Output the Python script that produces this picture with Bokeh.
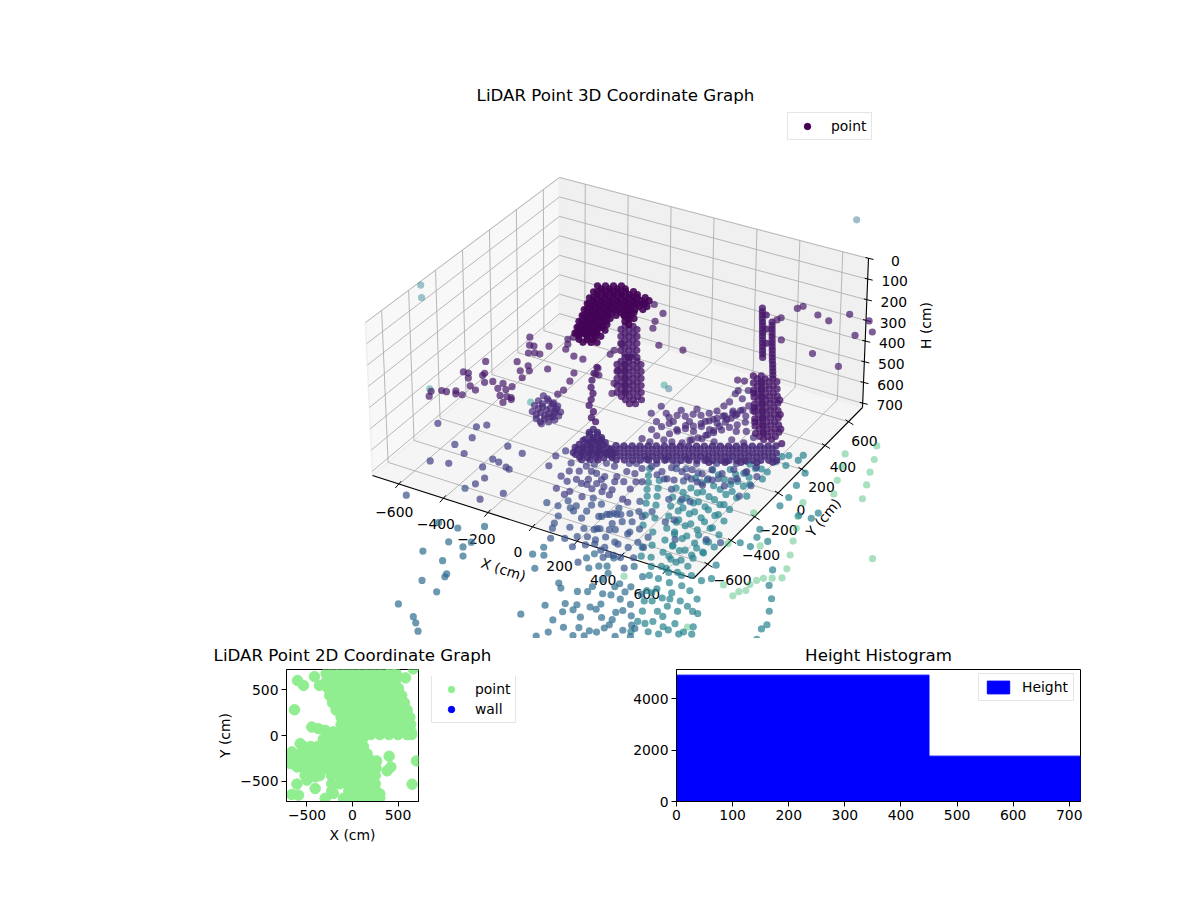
from bokeh.core.properties import value
from bokeh.embed import file_html
from bokeh.layouts import column, row
from bokeh.models import ColumnDataSource, FixedTicker, Legend, LegendItem, Range1d, Spacer
from bokeh.palettes import Viridis256
from bokeh.plotting import figure
from bokeh.resources import INLINE
import numpy as np

FONT = "DejaVu Sans"

# LiDAR returns, grouped by height (cm): (X, Y) readings for each level
roof_h = 170
roof_xy = [(-228,229),(-200,245),(-172,261),(-145,278),(-219,182),(-191,198),(-163,214),(-136,230),(-108,247),(-80,263),
    (-210,134),(-182,150),(-155,167),(-127,183),(-99,199),(-72,215),(-44,231),(-16,247),
    (-195,91),(-167,107),(-139,123),(-112,140),(-84,156),(-56,172),(-29,188),(-1,204),
    (-183,46),(-155,62),(-127,78),(-100,95),(-72,111),(-44,127),(-24,139),
    (-167,2),(-139,18),(-112,34),(-84,51),(-22,87),(-1,99),
    (-156,-43),(-128,-27),(-100,-11),(-73,6),(3,50),(-140,-86),(-112,-70),(-84,-54),(-57,-37),
    (-125,-129),(-97,-113),(-69,-97),(-49,-85),(-88,-161),(-60,-145),(-39,-133),
    (-253,241),(-225,257),(-197,273),(-170,290),(-244,194),(-216,210),(-188,226),(-161,242),(-133,259),(-105,275),
    (-235,146),(-207,162),(-180,179),(-152,195),(-124,211),(-97,227),(-69,243),(-41,259),(-220,103),(-192,119),(-164,135),
    (-137,152),(-109,168),(-81,184),(-54,200),(-26,216),(-208,58),(-180,74),(-152,90),(-125,107),(-97,123),(-69,139),(-49,151),
    (-192,14),(-164,30),(-137,46),(-109,63),(-47,99),(-26,111),(-181,-31),(-153,-15),(-125,1),(-98,18),(-22,62),
    (-165,-74),(-137,-58),(-109,-42),(-82,-25),(-150,-117),(-122,-101),(-94,-85),(-74,-73),(-113,-149),(-85,-133),(-64,-121),
    (-231,201),(-203,217),(-175,233),(-148,250),(-222,154),(-194,170),(-166,186),(-139,202),(-111,219),(-83,235),
    (-213,106),(-185,122),(-158,139),(-130,155),(-102,171),(-75,187),(-47,203),(-19,219),(-198,63),(-170,79),(-142,95),
    (-115,112),(-87,128),(-59,144),(-32,160),(-4,176),(-186,18),(-158,34),(-130,50),(-103,67),(-75,83),(-47,99),
    (-170,-26),(-142,-10),(-115,6),(-87,23),(-159,-71),(-131,-55),(-103,-39),(-76,-22),(-143,-114),(-115,-98),(-87,-82)]

pillar_h = 300
pillar_xy = [(-105,208),(-77,224),(-79,162),(-51,178),(-53,116),(-25,132),(-27,70),(1,86),(0,24),(28,40),
    (13,-30),(40,-14),(68,2),(39,-75),(66,-59),(94,-43),(65,-121),(92,-105),(120,-89),(91,-167),(118,-151),(146,-135),
    (117,-213),(144,-197),(172,-181),(144,-259),(171,-243),(199,-227),(197,-289),(218,-277),
    (-80,196),(-52,212),(-54,150),(-26,166),(-28,104),(0,120),(-2,58),(26,74),(25,12),(53,28),(38,-42),(65,-26),(93,-10),
    (64,-87),(91,-71),(119,-55),(90,-133),(117,-117),(145,-101),(116,-179),(143,-163),(171,-147),(142,-225),(169,-209),
    (197,-193),(169,-271),(196,-255),(224,-239),
    (-108,180),(-82,134),(-56,88),(-30,42),(10,-58),(37,-42),(36,-103),(63,-87),(62,-149),(89,-133),(88,-195),(115,-179),
    (114,-241),(141,-225),(11,5),(32,17),(22,11),(-117,262),(-133,305),
    (-48,-118),(-36,-163),(-17,-213),(6,-261),(35,-297),(51,-340),(66,-383),(103,-415),(118,-458),(147,-476),
    (312,602),(338,556),(365,510),(391,464),(417,418),(443,372),(469,326),(495,280),(352,564),(405,472),(457,380),
    (325,579),(351,533),(378,487),(404,441),(430,395),(456,349),(482,303),
    (399,530),(425,484),(451,438),(477,392),(503,346),(529,300),(556,254),(582,208),
    (412,507),(438,461),(464,415),(490,369),(516,323),(542,277),(569,231),(595,185),
    (553,130),(579,84),(605,38),(632,-7),(658,-53),(684,-99),(710,-145),(736,-191),(763,-237),
    (581,146),(607,100),(633,54),(660,9),(686,-37),(712,-83),(738,-129),(764,-175),(791,-221),
    (608,162),(634,116),(660,70),(687,25),(713,-21),(739,-67),(765,-113),(791,-159),(818,-205),
    (578,118),(604,72),(630,26),(657,-19),(683,-65),(709,-111),(735,-157),(761,-203),(788,-249),
    (606,134),(632,88),(658,42),(685,-3),(711,-49),(737,-95),(763,-141),(789,-187),(816,-233),
    (633,150),(659,104),(685,58),(712,13),(738,-33),(764,-79),(790,-125),(816,-171),
    (528,142),(554,96),(580,50),(607,5),(633,-41),(659,-87),(685,-133),(711,-179),(738,-225),
    (556,158),(582,112),(608,66),(635,21),(661,-25),(687,-71),(713,-117),(739,-163),(766,-209),
    (708,37),(760,-55),(812,-147),(865,-239),(591,30),(644,-61),(696,-153)]
back_xy = [(-392,-57),(-362,-110),(-344,-107),(-292,-77),(-336,-164),(-315,-151),(-293,-148),(-254,7),(-243,31),(-235,-26),
    (-223,-63),(-169,-92),(-127,-93),(-448,-308),(-341,-245),(-288,-249),(-296,-298),(-265,-280),(-210,-230),(-105,-203),
    (-89,-264),(-263,-340),(-482,-424),(-461,-421),(-442,-454),(-405,-406),(-406,-389),(-372,-448),(-348,-425),(-406,-502),
    (-373,-518),(-515,-619),(-483,-592),(-463,-589),(-435,-564),(-424,-584),(-399,-577),(-503,-655),(-77,-336),(-82,-374),
    (-226,-493),(70,-188),(100,-258),(35,-95),(-48,84),(-53,29),(-51,-6),(-41,-122),(-26,-166),(-12,-166),
    (-306,-417),(-305,-460),(-274,-451),(-264,-419),(-271,-502),(-244,-495),(-235,-542),(-218,-506),
    (440,668),(453,693),(539,665),(600,648),(653,731),(748,726),(800,660),(749,604),(660,403),(799,371),
    (498,431),(416,575),(409,553),(488,83),(516,90),(186,169),(84,152),(-22,370),(-20,302),(-1,252),(-87,411)]

wall_h = 420
wall_xy = [(76,-367),(81,-408),(109,-392),(85,-449),(113,-433),(140,-417),(83,-494),(111,-478),(139,-462),(166,-446),
    (95,-531),(123,-515),(151,-499),(178,-483),(206,-466),(107,-567),(134,-551),(162,-535),(189,-519),(217,-502),
    (146,-588),(174,-572),(202,-556),
    (101,-379),(106,-420),(134,-404),(110,-461),(138,-445),(165,-429),(108,-506),(136,-490),(164,-474),(191,-458),
    (120,-543),(148,-527),(176,-511),(203,-495),(231,-478),(132,-579),(159,-563),(187,-547),(214,-531),(242,-514),
    (73,-395),(82,-461),(110,-445),(137,-429),(80,-522),(108,-506),(136,-490),(163,-474),(92,-559),(120,-543),(148,-527),(175,-511),(203,-494),
    (209,-455),(237,-439),(265,-423),(292,-407),(320,-390),(348,-374),(376,-358),(403,-342),(431,-326),(459,-309),(487,-293),
    (514,-277),(542,-261),(570,-245),(598,-228),(625,-212),(653,-196),(681,-180),(709,-164),(736,-147),(764,-131),
    (235,-501),(263,-485),(291,-469),(318,-453),(346,-436),(374,-420),(402,-404),(429,-388),(457,-372),(485,-355),(513,-339),
    (540,-323),(568,-307),(596,-291),(624,-274),(651,-258),(679,-242),(707,-226),(735,-210),(762,-193),(790,-177),
    (238,-473),(266,-457),(294,-441),(321,-425),(349,-408),(377,-392),(405,-376),(432,-360),(460,-344),(488,-327),(516,-311),
    (543,-295),(571,-279),(599,-263),(627,-246),(654,-230),(682,-214),(710,-198),(738,-182),(765,-165),(793,-149),
    (212,-427),(240,-411),(268,-395),(295,-379),(323,-362),(351,-346),(379,-330),(406,-314),(434,-298),(462,-281),(490,-265),
    (517,-249),(545,-233),(573,-217),(601,-200),(628,-184),(656,-168),(684,-152),(712,-136),(739,-119),(767,-103),
    (264,-519),(292,-503),(320,-487),(347,-471),(375,-454),(403,-438),(431,-422),(458,-406),(486,-390),(514,-373),(542,-357),
    (569,-341),(597,-325),(625,-309),(653,-292),(680,-276),(708,-260),(736,-244),(764,-228),(791,-211),(819,-195),
    (590,-346),(646,-313),(701,-281),(757,-249),(812,-216)]
fan_xy = [(353,-240),(371,-207),(390,-175),(408,-142),(426,-110),(445,-77),(463,-44),(481,-12),(500,21),(518,54),
    (429,-274),(447,-241),(466,-209),(484,-176),(502,-144),(521,-111),(539,-78),(557,-46),(576,-13),
    (483,-207),(489,-169),(495,-130),(500,-92),(506,-53),(512,-15),(518,24),(524,62),(530,100),
    (293,-135),(313,-105),(345,-95),(365,-66),(396,-57),(417,-27),(437,3),(443,50),(448,88),(439,152),(438,178),
    (300,-210),(315,-174),(363,-198),(379,-154),(428,-177),(438,-129),(477,-132),(481,-76),(501,-30),(517,14),
    (612,-70),(659,-95),(316,-279),(355,-291),(452,-234),(536,-202),(590,-153),(643,-149),
    (268,-114),(322,-153),(309,-64),(378,-120),(360,-25),(433,-88),(453,-58),(476,-18),(493,35),(482,133),(473,199),
    (264,-187),(276,-249),(276,-328),(314,-332),(390,-288),(577,-90),(556,28),(562,76),(216,-144),(225,-78),
    (-218,-250),(-216,-293),(-181,-273),(-156,-276),(-211,-333),(-179,-324),(-148,-315),(-124,-309),
    (-196,-377),(-164,-367),(-132,-358),(-116,-339),(-156,-415),(-128,-399),(-114,-374),(-120,-438),
    (-193,-262),(-191,-305),(-156,-285),(-131,-288),(-186,-345),(-154,-336),(-123,-327),(-99,-321),
    (-171,-389),(-139,-379),(-107,-370),(-91,-351),(-131,-427),(-103,-411),(-89,-386)]

scatter_h = 560
scatter_xy = [(-578,-458),(-436,-401),(-408,-368),(-409,-481),(-441,-562),(-376,-602),(-460,-722),(-390,-699),(-258,-463),
    (-183,-480),(-260,-579),(-229,-586),(-186,-604),(-168,-611),(-265,-651),(-217,-720),(-226,-777),(-99,-781),(-155,-867),
    (59,-637),(70,-569),(108,-660),(115,-629),(126,-553),(135,-513),(225,-565),(180,-566),(261,-570),(321,-570),(349,-580),
    (278,-332),(272,-380),(217,-325),(176,-374),(180,-461),(100,-402),(148,-549),(213,-528),(232,-473),(311,-489),
    (304,-299),(358,-312),(377,-266),(427,-271),(455,-238),(504,-244),(524,-198),(573,-203),(600,-153),(652,-140),(671,-93),
    (326,-418),(429,-341),(545,-316),(624,-278),
    (261,-263),(311,-270),(330,-223),(380,-229),(399,-182),(449,-189),(468,-142),(518,-148),(546,-114),(587,-108),(615,-74),
    (352,-342),(401,-348),(463,-294),(516,-307),(561,-264),(643,-206),(705,-152),
    (17,-442),(74,-478),(80,-431),(141,-457),(138,-371),(221,-436),(237,-383),(241,-311),(94,-537),(178,-523),(252,-531),
    (175,-638),(116,-454),(180,-487),(263,-455),(305,-431),(40,-498),(31,-548),(-48,-506),(-61,-427),(-46,-374)]

floor_h = 720
floor_xy = [(-368,-609),(-535,-778),(-42,-533),(23,-477),(7,-530),(56,-518),(78,-532),(118,-457),(131,-562),(45,-596),
    (57,-650),(69,-687),(124,-645),(176,-624),(183,-515),(203,-485),(223,-464),(251,-457),(147,-728),(99,-756),
    (343,-552),(302,-401),(266,-579),(231,-592),(214,-610),(279,-634),(312,-702),(267,-702),(239,-727),(309,-729),
    (349,-741),(401,-736),(269,-333),(278,-432),(222,-421),(148,-430),(98,-407),(237,-465),(213,-479),(366,-513),
    (286,-567),(221,-598),(343,-569),(346,-655),(255,-674),(370,-737),
    (69,-493),(123,-506),(193,-509),(254,-534),(281,-501),(315,-481),(332,-427),(347,-374),(217,-670),(182,-690),
    (202,-766),(342,-771),(328,-648),(392,-655),(407,-602),(424,-548),(450,-796),(446,-710),(444,-624),(275,-854),
    (277,-47),(311,-27),(368,-30),(346,-112),(424,-49),(459,-28),(334,-190),(361,-261),(406,-234),(442,-231),(453,-383),
    (429,-414),(524,-507),(631,-444),(691,-435),(595,-98),(599,-7),(512,-15),(534,67),(366,-83),(272,-138)]

steel_h = 950
steel_xy = [(-507,-575),(-423,-570),(-340,-504),(-401,-680),(-325,-635),(-335,-683),(-301,-743),(-451,-795),(-351,-816),
    (-289,-894),(-284,-917),(-345,-989),(-256,-1032),(-336,-1192),(-242,-1243),(-212,-1278),(-175,-1327),(-77,-585),(-65,-517),
    (-35,-569),(-18,-673),(115,-719),(140,-747),(148,-891),(99,-999),(225,-969),(226,-1108),(209,-838),(257,-862),(252,-821),
    (307,-894),(384,-963),(346,-1028),(384,-1006),(412,-956),(430,-883),(422,-844),(332,-810),(330,-767),(304,-808),
    (300,-697),(332,-687),(378,-695),(431,-708),(426,-763),(506,-839),(494,-890),(240,-671),(118,-498),(130,-455),
    (162,-559),(189,-526),(217,-509),(211,-443),(322,-597),(246,-553),(473,-780),(310,-455),(375,-504),(371,-594),(432,-620),
    (286,-995),(338,-964),(424,-914),(409,-790),(369,-639),(379,-852),(242,-714),(207,-734),(229,-896),(252,-1057),
    (248,-605),(316,-626),(528,-853),(489,-945),(541,-915)]
far_steel_xy = [(-239,2279),(-238,782)]

teal_h = 1150
teal_xy = [(-155,490),(-132,442),(-106,396),(-84,348),(-57,302),(-34,254),(8,174),(38,104),(117,-42),(147,-103),
    (-75,431),(-49,377),(-22,322),(8,261),(53,174),(98,78),(144,-9),(185,-90),(219,-149),(245,-212),
    (14,414),(36,348),(63,285),(94,215),(132,132),(170,50),(208,-33),(254,-129),(288,-214),
    (45,519),(66,444),(89,370),(113,297),(143,210),(174,122),(216,33),(243,-47),(278,-132),
    (74,607),(94,530),(122,442),(145,368),(169,294),(200,208),(231,121),(277,25),(300,-49),(331,-135),
    (136,643),(153,565),(176,492),(194,414),(210,335),(241,249),(269,151),(310,62),(334,-11),
    (187,717),(199,645),(208,580),(226,503),(246,401),(263,324),(291,226),(330,125),(346,48),
    (55,399),(80,334),(108,268),(143,191),(181,109),(219,26),(261,-63),(301,-153),
    (85,499),(107,425),(131,351),(158,271),(188,184),(225,95),(259,11),(290,-72),
    (114,586),(138,504),(163,423),(187,349),(214,269),(245,182),(284,91),(318,6),(345,-74),
    (174,622),(194,546),(215,471),(232,392),(255,310),(285,218),(319,124),(352,43),
    (223,699),(233,630),(247,559),(266,470),(284,380),(307,293),(340,193),(368,104),
    (295,850),(347,880),(348,837),(322,779),(421,766),(435,669),(452,575),(451,503),(554,477),(610,483),(616,531),
    (465,310),(537,247),(484,252),(494,179),(444,184),(656,72),(698,-35),(753,-116),(788,-201),(826,-292),(821,-330),(840,-406),
    (274,830),(288,644),(262,585),(279,700),(272,784),(246,708),(296,501),
    (291,-316),(319,-283),(346,-372),(370,-332),(385,-280),(417,-375),(394,-213),(440,-229),(494,-268),(486,-334),
    (470,-387),(437,-450),(421,-503),(349,-458),(369,-534),(441,-579),(484,-572),(503,-526),(504,-472),(562,-508),
    (578,-455),(547,-360),(391,-127),(356,-147),(340,-218),
    (316,-320),(319,-388),(401,-428),(400,-323),(443,-315),(522,-357),(474,-516),(401,-532),(382,-614),(553,-531),(598,-505),
    (444,-140),(472,-107),(440,-10)]
far_teal_xy = [(-1749,1280),(-1687,1194)]

mint_h = 1350
mint_xy = [(-1433,869),(-1021,980),(-614,1359)]

green_h = 1700
green_xy = [(133,1845),(179,1749),(214,1656),(252,1565),(291,1465),(560,1088),(45,1732),(84,1641),(122,1541),(164,1443),
    (83,1326),(119,1224),(160,1143),(198,1052),(241,954),(282,856),(299,787),(264,766),(233,748),(216,721),(207,681),
    (216,633),(195,612),(189,573),(114,626),(-59,1164),(-30,909),(96,956),(-273,486),(146,277)]

height_min, height_max = 150, 2400

axis_ticks = [-600, -400, -200, 0, 200, 400, 600]
height_ticks = [0, 100, 200, 300, 400, 500, 600, 700]

# floor plan view: (Y, [X, ...]) rows plus a few lone returns
plan_rows = [
    (680, [-290,-210,-130,-50,30,110,190,270,350,430,480]),
    (600, [-285,-205,-125,-45,35,115,195,275,355,435,470]),
    (520, [-270,-190,-110,-30,50,130,210,290,370,450,505]),
    (440, [-250,-170,-90,-10,70,150,230,310,390,470,540]),
    (360, [-220,-140,-60,20,100,180,260,340,420,500,570]),
    (280, [-180,-100,-20,60,140,220,300,380,460,540,600]),
    (200, [-125,-45,35,115,195,275,355,435,515,595,630]),
    (120, [-125,-45,35,115,195,275,355,435,515,595,640]),
    (40, [-210,-140,-60,20,100,180,260,340,420,500,580,645]),
    (10, [200,300,400,500,600,650]),
    (-40, [-320,-240,-160,-80,0,80,110]),
    (-120, [-540,-460,-380,-300,-220,-140,-60,20,100,120]),
    (-200, [-660,-580,-500,-420,-340,-260,-180,-100,-20,60,140,160]),
    (-280, [-700,-620,-540,-460,-380,-300,-220,-140,-60,20,100,180,220,265]),
    (-360, [-540,-460,-380,-300,-220,-140,-60,20,100,180,260]),
    (-440, [-520,-440,-360,-230,-140,-60,20,100,180,250]),
    (-530, [-228,-140,-64,0,80,160,250]),
    (-610, [-228,-40,20,100,180,260]),
    (-690, [-300,-100,-60,20,100,180,260,300]),
]
plan_lone = [(-604,604),(-538,550),(-418,648),(-363,550),(-637,283),(-447,93),(-374,75),(-300,57),(-575,-89),(-666,-180),
    (-611,-345),(-684,-308),(-410,-454),(-501,-490),(-611,-534),(-410,-582),(-666,-648),(-593,-655),(-210,-637),
    (403,-228),(421,-345),(381,-388),(702,-279),(655,-535),(582,633),(428,732),(666,732),(300,-640)]
plan_ticks = [-500, 0, 500]

hist_edges = [0, 450, 720]
hist_counts = [4930, 1770]
hist_xticks = [0, 100, 200, 300, 400, 500, 600, 700]
hist_yticks = [0, 2000, 4000]

# box corners on the page: low X/low Y, high X/low Y, high X/high Y, low X/high Y
box_tops = [(365, 322), (698, 418), (868, 258), (559, 177)]
box_floors = [(372, 475), (693, 578), (862, 407), (559, 317)]


def corner_weights(x, y):
    s, t = (np.asarray(x, float) + 720) / 1440, (np.asarray(y, float) + 720) / 1440
    return [(1 - s) * (1 - t), s * (1 - t), s * t, (1 - s) * t]


def project(x, y, h):
    # box frame, grid and ticks
    w = np.asarray(h, float) / 720
    weights = corner_weights(x, y)
    px = sum(a * (tp[0] + w * (fl[0] - tp[0])) for a, tp, fl in zip(weights, box_tops, box_floors))
    py = sum(a * (tp[1] + w * (fl[1] - tp[1])) for a, tp, fl in zip(weights, box_tops, box_floors))
    return px, py


def project_points(x, y, h):
    # returns can lie far outside the box, so height is a plain vertical shift here
    weights = corner_weights(x, y)
    px = sum(a * fl[0] for a, fl in zip(weights, box_floors))
    py = sum(a * fl[1] for a, fl in zip(weights, box_floors)) - (720 - np.asarray(h, float)) * 0.2087
    return px, py


def seg(a, b):
    ax, ay = project(*a)
    bx, by = project(*b)
    return [float(ax), float(bx)], [float(ay), float(by)]


def add_segments(p, segments, color, width):
    p.multi_line([s[0] for s in segments], [s[1] for s in segments], line_color=color, line_width=width)


def add_label(p, x, y, text, size="13.9px", align="center", angle=0):
    p.text(x=[x], y=[y], text=[text], text_font=value(FONT), text_font_size=size, text_color="black",
           text_align=align, text_baseline="middle", angle=angle)


def minus(v):
    return str(v).replace("-", "\u2212")


def style_axes(p):
    for ax in [p.xaxis[0], p.yaxis[0]]:
        ax.major_label_text_font = FONT
        ax.major_label_text_font_size = "13.9px"
        ax.major_label_text_color = "black"
        ax.axis_label_text_font = FONT
        ax.axis_label_text_font_size = "13.9px"
        ax.axis_label_text_font_style = "normal"
        ax.axis_label_text_color = "black"
        ax.major_tick_in = 0
        ax.major_tick_out = 5
        ax.minor_tick_line_color = None
        ax.major_label_standoff = 3
        ax.axis_label_standoff = 4
    p.grid.visible = False
    p.outline_line_color = "black"


def style_legend(legend):
    legend.label_text_font = FONT
    legend.label_text_font_size = "13.9px"
    legend.label_text_color = "black"
    legend.border_line_color = "#cccccc"
    legend.background_fill_alpha = 0.8
    legend.margin = 0
    legend.padding = 5
    legend.spacing = 4
    legend.glyph_width = 28
    legend.glyph_height = 16
    legend.label_height = 16
    legend.label_standoff = 10


# main 3D view, ranges are page pixels
main = figure(width=1192, height=638, x_range=Range1d(0, 1192), y_range=Range1d(638, 0),
              x_axis_type=None, y_axis_type=None, toolbar_location=None, output_backend="svg",
              min_border=0, outline_line_color=None)
main.grid.visible = False

corners = {
    "left": [(-720, -720, 0), (-720, 720, 0), (-720, 720, 720), (-720, -720, 720)],
    "back": [(-720, 720, 0), (720, 720, 0), (720, 720, 720), (-720, 720, 720)],
    "floor": [(-720, -720, 720), (720, -720, 720), (720, 720, 720), (-720, 720, 720)],
}
pane_colors = {"left": "#f8f8f8", "back": "#f0f0f0", "floor": "#f5f5f5"}
for name, pts in corners.items():
    arr = np.array(pts)
    px, py = project(arr[:, 0], arr[:, 1], arr[:, 2])
    main.patch(px, py, fill_color=pane_colors[name], line_color="#efefef", line_width=1.5)

grid = []
for v in axis_ticks:
    grid.append(seg((v, -720, 720), (v, 720, 720)))
    grid.append(seg((v, 720, 720), (v, 720, 0)))
    grid.append(seg((-720, v, 720), (720, v, 720)))
    grid.append(seg((-720, v, 720), (-720, v, 0)))
for v in height_ticks:
    grid.append(seg((-720, -720, v), (-720, 720, v)))
    grid.append(seg((-720, 720, v), (720, 720, v)))
add_segments(main, grid, "#b0b0b0", 0.9)

# axis lines and tick marks
add_segments(main, [seg((-720, -720, 720), (720, -720, 720)), seg((720, -720, 720), (720, 720, 720)),
                    seg((720, 720, 720), (720, 720, 0))], "black", 1.1)

marks = []
x_label_dx = [-5, -8, -12, -15, -18, -19, -20]
x_label_dy = [28, 26, 26, 25, 25, 24, 24]
y_label_dx = [25, 30, 24, 23, 20, 18, 16]
y_label_dy = [16, 14, 13, 17, 18, 21, 19]
for i, v in enumerate(axis_ticks):
    px, py = project(v, -720, 720)
    marks.append(([float(px) - 4, float(px) + 2], [float(py) + 4, float(py) - 3]))
    add_label(main, float(px) + x_label_dx[i], float(py) + x_label_dy[i], minus(v))
    px, py = project(720, v, 720)
    marks.append(([float(px) - 3, float(px) + 5], [float(py) - 2, float(py) + 3]))
    add_label(main, float(px) + y_label_dx[i], float(py) + y_label_dy[i], minus(v))
for v in height_ticks:
    px, py = project(720, 720, v)
    marks.append(([float(px) - 3, float(px) + 5], [float(py) - 1, float(py) + 1]))
    add_label(main, float(px) + 27, float(py) + 2, str(v))
add_segments(main, marks, "black", 1.0)

add_label(main, 503, 569, "X (cm)", angle=-0.31)
add_label(main, 823, 517, "Y (cm)", angle=0.87)
add_label(main, 925, 325, "H (cm)", angle=np.pi / 2)
add_label(main, 615, 95, "LiDAR Point 3D Coordinate Graph", size="16.67px")

# far returns fade with depth, as the original shading does
levels = [(green_h, green_xy, 0.45), (mint_h, mint_xy, 0.45), (teal_h, far_teal_xy, 0.45), (steel_h, far_steel_xy, 0.45),
          (teal_h, teal_xy, 0.7), (steel_h, steel_xy, 0.7), (floor_h, floor_xy, 0.7),
          (scatter_h, scatter_xy, 0.7), (pillar_h, back_xy, 0.7), (wall_h, fan_xy, 0.7), (wall_h, wall_xy, 0.85),
          (pillar_h, pillar_xy, 0.8), (roof_h, roof_xy, 0.9)]
point_x = [xy[0] for _, pts, _ in levels for xy in pts]
point_y = [xy[1] for _, pts, _ in levels for xy in pts]
point_h = [h for h, pts, _ in levels for _ in pts]
point_a = [a for _, pts, a in levels for _ in pts]
sx, sy = project_points(point_x, point_y, point_h)
shade = [Viridis256[int(255 * (h - height_min) / (height_max - height_min))] for h in point_h]
source = ColumnDataSource(dict(sx=sx, sy=sy, color=shade, alpha=point_a))
main.scatter("sx", "sy", source=source, size=7.2, fill_color="color", line_color=None, fill_alpha="alpha")

key = main.scatter([float("nan")], [float("nan")], size=7, fill_color="#440154", line_color="#440154")
main_legend = Legend(items=[LegendItem(label="point", renderers=[key])], location=(787, 498))
style_legend(main_legend)
main.add_layout(main_legend)

# the lower titles run wider than their plots, so they share a strip above them
strip = figure(width=1192, height=30, x_range=Range1d(0, 1192), y_range=Range1d(668, 638), x_axis_type=None, y_axis_type=None,
               toolbar_location=None, output_backend="svg", min_border=0, outline_line_color=None)
strip.grid.visible = False
add_label(strip, 352, 655, "LiDAR Point 2D Coordinate Graph", size="16.67px")
add_label(strip, 878, 655, "Height Histogram", size="16.67px")

# plan view
plan = figure(width=431, height=182, x_range=Range1d(-725, 725), y_range=Range1d(-725, 725),
              x_axis_label="X (cm)", y_axis_label="Y (cm)", toolbar_location=None, output_backend="svg",
              min_border_left=286, min_border_right=13, min_border_top=1, min_border_bottom=49)
plan_x = [x for _, xs in plan_rows for x in xs] + [xy[0] for xy in plan_lone]
plan_y = [y for y, xs in plan_rows for _ in xs] + [xy[1] for xy in plan_lone]
plan.scatter(plan_x, plan_y, size=10.5, color="#90ee90")
plan.xaxis.ticker = FixedTicker(ticks=plan_ticks)
plan.yaxis.ticker = FixedTicker(ticks=plan_ticks)
plan.xaxis.major_label_overrides = {v: minus(v) for v in plan_ticks}
plan.yaxis.major_label_overrides = {v: minus(v) for v in plan_ticks}
style_axes(plan)

# the plan's key sits beside its frame, so it gets a small figure of its own
plan_key = figure(width=90, height=50, x_range=Range1d(0, 1), y_range=Range1d(0, 1), x_axis_type=None, y_axis_type=None,
                  toolbar_location=None, output_backend="svg", min_border=0, outline_line_color=None)
plan_key.grid.visible = False
r_point = plan_key.scatter([float("nan")], [float("nan")], size=10, color="#90ee90")
r_wall = plan_key.scatter([float("nan")], [float("nan")], size=10, color="blue")
plan_legend = Legend(items=[LegendItem(label="point", renderers=[r_point]), LegendItem(label="wall", renderers=[r_wall])],
                     location=(0, 3))
style_legend(plan_legend)
plan_key.add_layout(plan_legend)

# height histogram
hist = figure(width=572, height=182, x_range=Range1d(0, 720), y_range=Range1d(0, 5150),
              toolbar_location=None, output_backend="svg",
              min_border_left=56, min_border_right=112, min_border_top=1, min_border_bottom=49)
r_hist = hist.quad(left=hist_edges[:-1], right=hist_edges[1:], bottom=0, top=hist_counts, fill_color="blue", line_color="blue")
hist.xaxis.ticker = FixedTicker(ticks=hist_xticks)
hist.yaxis.ticker = FixedTicker(ticks=hist_yticks)
hist.yaxis.formatter.use_scientific = False
style_axes(hist)
hist_legend = Legend(items=[LegendItem(label="Height", renderers=[r_hist])], location=(302, 100))
style_legend(hist_legend)
hist.add_layout(hist_legend)

page = column(main, strip, row(plan, column(Spacer(height=8), plan_key), Spacer(width=99), hist))
open("out.html", "w").write(file_html(page, INLINE))
